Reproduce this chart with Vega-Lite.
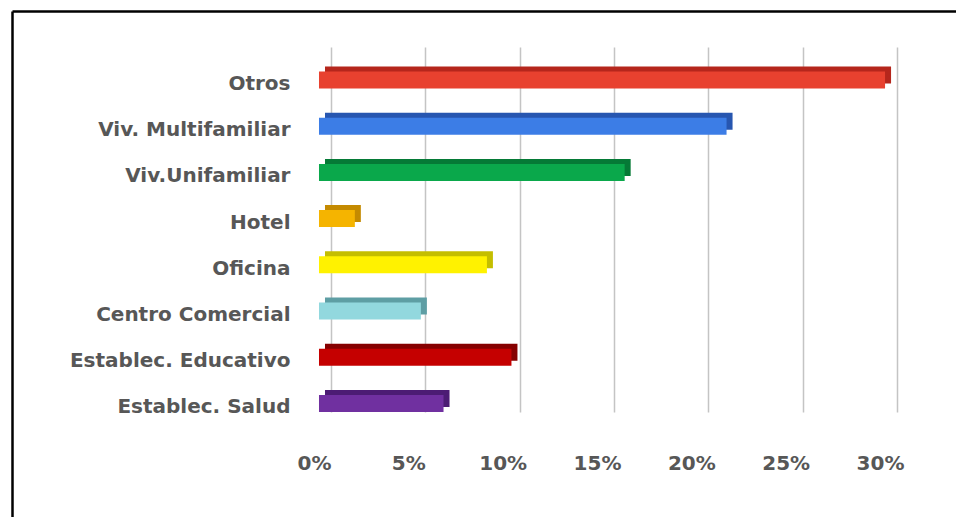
{
  "$schema": "https://vega.github.io/schema/vega-lite/v6.json",
  "width": 944,
  "height": 506,
  "autosize": {"type": "none"},
  "padding": {"left": 12, "top": 11, "right": 0, "bottom": 0},
  "background": "white",
  "config": {"view": {"stroke": null}, "font": "DejaVu Sans"},
  "data": {
    "values": [
      {"categoria": "Otros", "valor": 30.0},
      {"categoria": "Viv. Multifamiliar", "valor": 21.6},
      {"categoria": "Viv.Unifamiliar", "valor": 16.2},
      {"categoria": "Hotel", "valor": 1.9},
      {"categoria": "Oficina", "valor": 8.9},
      {"categoria": "Centro Comercial", "valor": 5.4},
      {"categoria": "Establec. Educativo", "valor": 10.2},
      {"categoria": "Establec. Salud", "valor": 6.6}
    ]
  },
  "layer": [
    {
      "mark": {"type": "bar", "xOffset": 6, "x2Offset": 6, "yOffset": -5, "y2Offset": -5},
      "encoding": {
        "y": {
          "field": "categoria", "type": "nominal", "sort": null,
          "scale": {
            "domain": [" ", "Otros", "Viv. Multifamiliar", "Viv.Unifamiliar", "Hotel", "Oficina", "Centro Comercial", "Establec. Educativo", "Establec. Salud", "  "],
            "paddingInner": 0.632, "paddingOuter": 0.792, "align": 0.195
          },
          "axis": {"orient": "left", "domain": true, "domainColor": "black", "domainWidth": 2.5, "ticks": false, "labels": false, "title": null, "grid": false}
        },
        "x": {
          "field": "valor", "type": "quantitative",
          "scale": {"domain": [-16.27, 33.76], "nice": false, "zero": false},
          "axis": {"orient": "top", "domain": true, "domainColor": "black", "domainWidth": 2.5, "ticks": false, "labels": false, "title": null, "grid": false}
        },
        "x2": {"datum": 0},
        "color": {
          "field": "categoria", "type": "nominal", "legend": null,
          "scale": {
            "domain": ["Otros", "Viv. Multifamiliar", "Viv.Unifamiliar", "Hotel", "Oficina", "Centro Comercial", "Establec. Educativo", "Establec. Salud"],
            "range": ["#B5261C", "#2756B0", "#057A36", "#C48A00", "#C4BE00", "#5E9EA4", "#850000", "#4C1C74"]
          }
        }
      }
    },
    {
      "mark": {"type": "bar"},
      "encoding": {
        "y": {
          "field": "categoria", "type": "nominal", "sort": null,
          "axis": {"orient": "left", "offset": -278, "domain": false, "ticks": false, "labelPadding": 0, "labelFont": "DejaVu Sans", "labelFontWeight": "bold", "labelFontSize": 20, "labelColor": "#575757", "labelOffset": 4, "labelLimit": 400, "title": null, "grid": false}
        },
        "x": {
          "field": "valor", "type": "quantitative",
          "axis": {"orient": "bottom", "offset": -105, "domain": false, "ticks": true, "tickSize": -365, "tickColor": "#c4c4c4", "tickWidth": 1.5, "tickOffset": 12, "values": [0, 5, 10, 15, 20, 25, 30], "labelExpr": "datum.value + '%'", "labelOffset": -17, "labelPadding": 406, "labelFont": "DejaVu Sans", "labelFontWeight": "bold", "labelFontSize": 20, "labelColor": "#575757", "labelOverlap": false, "labelFlush": false, "grid": false, "title": null, "zindex": 0}
        },
        "x2": {"datum": 0},
        "color": {
          "field": "categoria", "type": "nominal", "legend": null,
          "scale": {
            "domain": ["Otros", "Viv. Multifamiliar", "Viv.Unifamiliar", "Hotel", "Oficina", "Centro Comercial", "Establec. Educativo", "Establec. Salud"],
            "range": ["#E8412F", "#3C7DE6", "#0AA84B", "#F5B400", "#FFF200", "#92D8DE", "#C50000", "#7030A0"]
          }
        }
      }
    }
  ],
  "resolve": {"axis": {"x": "independent", "y": "independent"}, "scale": {"color": "independent"}}
}
